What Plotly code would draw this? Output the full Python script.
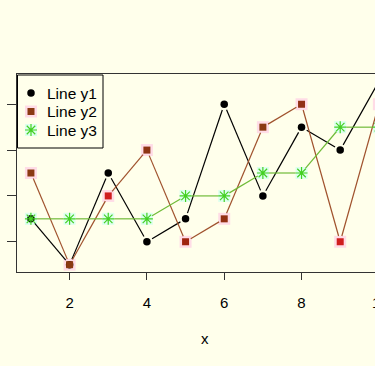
import plotly.graph_objects as go
import math

x = [1, 2, 3, 4, 5, 6, 7, 8, 9, 10]
y1 = [3, 1, 5, 2, 3, 8, 4, 7, 6, 9]
y2 = [5, 1, 4, 6, 2, 3, 7, 8, 2, 8]
y3 = [3, 3, 3, 3, 4, 4, 5, 5, 7, 7]
names = ["Line y1", "Line y2", "Line y3"]
y2_colors = ["#8B3A12", "#8B3A12", "#D01E1E", "#8E3412", "#A0240F",
             "#923012", "#8B3A12", "#923014", "#D01E1E", "#8E3412"]
x_ticks = [2, 4, 6, 8, 10]
y_ticks = [2, 4, 6, 8]
x_label = "x"

BG = "#FFFFEB"
XR_FULL = [0.64, 10.36]      # full axis extent (right part cropped away)
XR = [0.64, 9.90]            # visible part
YR = [0.68, 9.32]
W, H = 375, 366
ML, MR, MT, MB = 17, 0, 74, 94
PW, PH = W - ML - MR, H - MT - MB
sx = PW / (XR[1] - XR[0])
sy = PH / (YR[1] - YR[0])

HALO_PINK = "#FFDCE6"
HALO_CYAN = "#DCFFEE"
STAR = "#44D022"
STAR_MARKER = dict(symbol="asterisk-open", size=10, color=STAR,
                   line=dict(color=STAR, width=1.2))


def gapped(xs, ys, gap=6.0):
    gx, gy = [], []
    for i in range(len(xs) - 1):
        dx = (xs[i + 1] - xs[i]) * sx
        dy = (ys[i + 1] - ys[i]) * sy
        L = math.hypot(dx, dy)
        if L <= 2 * gap:
            continue
        ux, uy = dx / L, dy / L
        gx += [xs[i] + gap * ux / sx, xs[i + 1] - gap * ux / sx, None]
        gy += [ys[i] + gap * uy / sy, ys[i + 1] - gap * uy / sy, None]
    return gx, gy


def paper_x(v):
    return (v - XR[0]) / (XR[1] - XR[0])


fig = go.Figure()
# halos
fig.add_trace(go.Scatter(x=x, y=y2, mode="markers", showlegend=False, hoverinfo="skip",
                         marker=dict(symbol="square", size=12, color=HALO_PINK)))
fig.add_trace(go.Scatter(x=x, y=y3, mode="markers", showlegend=False, hoverinfo="skip",
                         marker=dict(symbol="square", size=12, color=HALO_CYAN)))
# lines with gaps
for ys, col in [(y1, "#000000"), (y2, "#A0522D"), (y3, "#70BB38")]:
    gx, gy = gapped(x, ys)
    fig.add_trace(go.Scatter(x=gx, y=gy, mode="lines", showlegend=False, hoverinfo="skip",
                             line=dict(color=col, width=1.2)))
# markers
fig.add_trace(go.Scatter(x=x, y=y1, mode="markers", name=names[0], showlegend=False,
                         marker=dict(symbol="circle", size=7.5, color="#000000")))
fig.add_trace(go.Scatter(x=x, y=y2, mode="markers", name=names[1], showlegend=False,
                         marker=dict(symbol="square", size=7, color=y2_colors,
                                     line=dict(width=0))))
fig.add_trace(go.Scatter(x=x, y=y3, mode="markers", name=names[2], showlegend=False,
                         marker=STAR_MARKER))

# ---- manual legend in pixel space (overlay axes x2/y2) ----
LEG_BOX = (17.5, 75, 103, 148)
LEG_SYM_X, LEG_TXT_X = 31, 45
LEG_ROWS = [93, 111.5, 130]
fig.add_shape(type="rect", xref="x2", yref="y2", x0=LEG_BOX[0], x1=LEG_BOX[2],
              y0=LEG_BOX[1], y1=LEG_BOX[3], line=dict(color="#000000", width=1),
              fillcolor=BG, layer="below")
fig.add_trace(go.Scatter(x=[LEG_SYM_X] * 2, y=LEG_ROWS[1:], xaxis="x2", yaxis="y2",
                         mode="markers", showlegend=False, hoverinfo="skip",
                         marker=dict(symbol="square", size=12,
                                     color=[HALO_PINK, HALO_CYAN])))
fig.add_trace(go.Scatter(x=[LEG_SYM_X], y=[LEG_ROWS[0]], xaxis="x2", yaxis="y2",
                         mode="markers", showlegend=False, hoverinfo="skip",
                         marker=dict(symbol="circle", size=7.5, color="#000000")))
fig.add_trace(go.Scatter(x=[LEG_SYM_X], y=[LEG_ROWS[1]], xaxis="x2", yaxis="y2",
                         mode="markers", showlegend=False, hoverinfo="skip",
                         marker=dict(symbol="square", size=7, color=y2_colors[0],
                                     line=dict(width=0))))
fig.add_trace(go.Scatter(x=[LEG_SYM_X], y=[LEG_ROWS[2]], xaxis="x2", yaxis="y2",
                         mode="markers", showlegend=False, hoverinfo="skip",
                         marker=STAR_MARKER))
for name, row in zip(names, LEG_ROWS):
    fig.add_annotation(x=LEG_TXT_X, y=row, xref="x2", yref="y2", text=name,
                       xanchor="left", yanchor="middle", showarrow=False,
                       font=dict(size=15.5, color="#000000"))

# cropped "10" tick label and axis title (centred on full R axis extent)
fig.add_annotation(x=paper_x(x_ticks[-1]), xref="paper", y=0, yref="paper",
                   xanchor="left", yanchor="top", xshift=-8.5, yshift=-20,
                   text=str(x_ticks[-1]), showarrow=False,
                   font=dict(size=15, color="#000000"))
fig.add_annotation(x=paper_x(sum(XR_FULL) / 2), xref="paper", y=0, yref="paper",
                   xanchor="center", yanchor="middle", yshift=-(338 - (H - MB)),
                   text=x_label, showarrow=False, font=dict(size=15, color="#000000"))

fig.update_layout(
    width=W, height=H,
    margin=dict(l=ML, r=MR, t=MT, b=MB, pad=0),
    paper_bgcolor=BG, plot_bgcolor=BG,
    font=dict(family="Liberation Sans, Arial, sans-serif", size=15, color="#000000"),
    showlegend=False,
    xaxis=dict(range=XR, showgrid=False, zeroline=False, showline=True, mirror=True,
               linecolor="#333333", linewidth=1, ticks="outside", ticklen=7,
               tickcolor="#333333", tickvals=x_ticks, ticklabelstandoff=10),
    yaxis=dict(range=YR, showgrid=False, zeroline=False, showline=True, mirror=False,
               linecolor="#333333", linewidth=1, ticks="outside", ticklen=9,
               tickcolor="#333333", tickvals=y_ticks, showticklabels=False),
    xaxis2=dict(range=[ML, W - MR], overlaying="x", visible=False, fixedrange=True),
    yaxis2=dict(range=[H - MB, MT], overlaying="y", visible=False, fixedrange=True),
)

fig.write_html("out.html", config={"displayModeBar": False},
               post_script="document.body.style.margin='0';"
                           "document.body.style.background='" + BG + "';")
